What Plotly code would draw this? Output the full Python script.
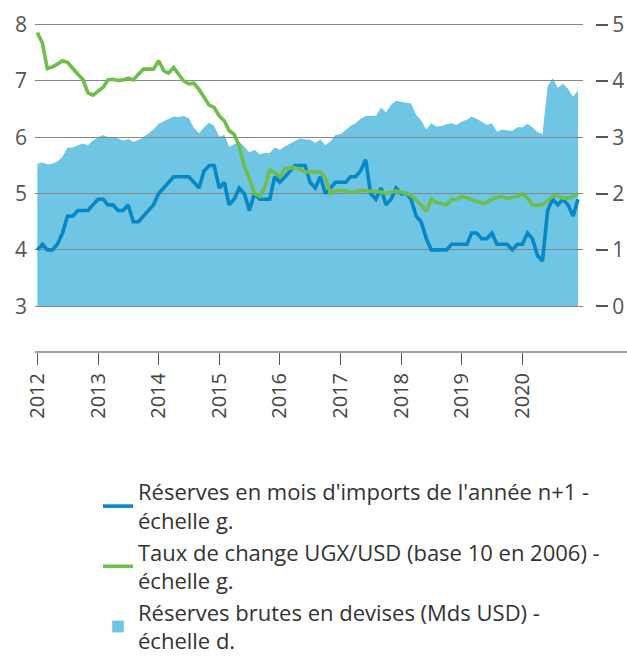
import pandas as pd
import plotly.graph_objects as go

# ---------------- data (monthly, Jan 2012 - Dec 2020) ----------------
months = pd.date_range("2012-01-01", periods=108, freq="MS")

reserves_months_imports = [
    4.0, 4.1, 4.0, 4.0, 4.1, 4.3, 4.6, 4.6, 4.7, 4.7, 4.7, 4.8, 4.9, 4.9, 4.8, 4.8,
    4.7, 4.7, 4.8, 4.5, 4.5, 4.6, 4.7, 4.8, 5.0, 5.1, 5.2, 5.3, 5.3, 5.3, 5.3,
    5.2, 5.1, 5.4, 5.5, 5.5, 5.1, 5.2, 4.8, 4.9, 5.1, 5.0, 4.7, 5.0, 4.9, 4.9, 4.9,
    5.3, 5.2, 5.3, 5.4, 5.5, 5.5, 5.5, 5.2, 5.1, 5.3, 5.0, 5.1, 5.2,
    5.2, 5.2, 5.3, 5.3, 5.4, 5.6, 5.0, 4.9, 5.1, 4.8, 4.9, 5.1, 5.0, 5.0, 4.9, 4.6,
    4.5, 4.2, 4.0, 4.0, 4.0, 4.0, 4.1, 4.1, 4.1, 4.1,
    4.3, 4.3, 4.2, 4.2, 4.3, 4.1, 4.1, 4.1, 4.0, 4.1, 4.1, 4.3, 4.2, 3.9, 3.8, 4.7,
    4.9, 4.8, 4.9, 4.8, 4.6, 4.9,
]

exchange_rate_index = [
    7.86, 7.67, 7.22, 7.25, 7.30, 7.36, 7.33, 7.22, 7.12, 7.03, 6.79, 6.75, 6.83, 6.89,
    7.02, 7.03, 7.01, 7.02, 7.05, 7.02, 7.12, 7.21, 7.21, 7.21, 7.36, 7.18, 7.14, 7.24,
    7.12, 7.00, 6.95,
    6.96, 6.85, 6.72, 6.57, 6.53, 6.38, 6.29, 6.12, 6.05, 5.85, 5.48, 5.27, 5.00, 4.95,
    5.10, 5.42, 5.37, 5.30, 5.44, 5.45, 5.46, 5.43, 5.38, 5.39, 5.39, 5.38, 5.28,
    5.00, 5.05, 5.06, 5.05, 5.02, 5.03, 5.06, 5.05, 5.04, 5.03, 5.03, 5.00, 5.03, 5.05,
    5.03, 5.00, 4.97, 4.89, 4.80, 4.68, 4.90, 4.84, 4.83, 4.80, 4.89, 4.90, 4.95, 4.92,
    4.89, 4.86, 4.83, 4.84, 4.90, 4.93, 4.95, 4.91, 4.93, 4.95, 5.00, 4.92, 4.80, 4.79,
    4.80, 4.88, 4.95, 4.96, 4.92, 4.92, 4.95, 5.00,
]

gross_reserves_bn_usd = [
    2.53, 2.55, 2.52, 2.53, 2.57, 2.66, 2.82, 2.82, 2.86, 2.89, 2.86, 2.94, 3.00, 3.04,
    3.00, 3.00, 2.98, 2.94, 2.97, 2.92, 2.95, 3.00, 3.07, 3.14, 3.24, 3.28, 3.32, 3.37,
    3.36, 3.38, 3.34,
    3.17, 3.07, 3.18, 3.26, 3.20, 3.01, 3.04, 2.83, 2.87, 2.92, 2.83, 2.73, 2.78, 2.70,
    2.72, 2.72, 2.82, 2.78, 2.84, 2.89, 2.94, 2.98, 2.96, 2.96, 2.90, 2.96, 2.86,
    2.93, 3.04, 3.06, 3.13, 3.20, 3.25, 3.33, 3.38, 3.38, 3.38, 3.53, 3.44, 3.58, 3.65,
    3.63, 3.62, 3.60, 3.40, 3.30, 3.14, 3.25, 3.19, 3.20, 3.23, 3.25, 3.22, 3.28, 3.31,
    3.37, 3.33, 3.28, 3.22, 3.25, 3.10, 3.14, 3.13, 3.11, 3.18, 3.18, 3.24, 3.18, 3.09,
    3.06, 3.90, 4.05, 3.88, 3.95, 3.86, 3.72, 3.83,
]

year_ticks = pd.date_range("2012-01-01", "2020-01-01", freq="YS")
year_labels = [str(d.year) for d in year_ticks]
left_ticks = [3, 4, 5, 6, 7, 8]
right_ticks = [0, 1, 2, 3, 4, 5]

names = [
    "Réserves en mois d'imports de l'année n+1 -<br>échelle g.",
    "Taux de change UGX/USD (base 10 en 2006) -<br>échelle g.",
    "Réserves brutes en devises (Mds USD) -<br>échelle d.",
]

# ---------------- style ----------------
BLUE = "#0787C5"
GREEN = "#6DBE4B"
AREA = "#6FC5E4"
GRID = "#858585"
TICKC = "#555555"
FONT = "Open Sans"

W, H = 627, 661
ML, MR, MT, MB = 35, 32, 15, 309
plot_w = W - ML - MR
plot_h = H - MT - MB
x_dom_end = (583 - ML) / plot_w

x_range = ["2011-12-18", "2020-12-31"]
left_range = [2.186, 8.172]
right_range = [left_range[0] - 3, left_range[1] - 3]

fig = go.Figure()

# area (right scale) on the back subplot
fig.add_trace(go.Scatter(
    x=months, y=gross_reserves_bn_usd, mode="lines", fill="tozeroy",
    line=dict(width=0, color=AREA), fillcolor=AREA,
    showlegend=False, xaxis="x", yaxis="y", hoverinfo="skip",
))
# lines (left scale) on the front subplot (its gridlines sit above the area)
fig.add_trace(go.Scatter(
    x=months, y=reserves_months_imports, mode="lines", name=names[0],
    line=dict(color=BLUE, width=3.6), xaxis="x2", yaxis="y2",
))
fig.add_trace(go.Scatter(
    x=months, y=exchange_rate_index, mode="lines", name=names[1],
    line=dict(color=GREEN, width=3.6), xaxis="x2", yaxis="y2",
))
# legend entry for the area (square swatch)
fig.add_trace(go.Bar(
    x=[None], y=[None], name=names[2], marker=dict(color=AREA),
    xaxis="x", yaxis="y",
))

fig.update_layout(
    width=W, height=H,
    margin=dict(l=ML, r=MR, t=MT, b=MB, autoexpand=False),
    paper_bgcolor="white", plot_bgcolor="rgba(0,0,0,0)",
    font=dict(family=FONT, color="#333333"),
    xaxis=dict(domain=[0, x_dom_end], range=x_range, type="date", visible=False,
               anchor="y"),
    yaxis=dict(range=right_range, side="right", anchor="free", position=1,
               showgrid=False, zeroline=False, tickvals=right_ticks,
               ticks="outside", ticklen=12, tickwidth=1.5, tickcolor=TICKC,
               tickfont=dict(size=21, color=TICKC, family=FONT)),
    xaxis2=dict(domain=[0, x_dom_end], range=x_range, type="date", anchor="y2",
                tickvals=list(year_ticks), ticktext=year_labels, tickangle=-90,
                ticks="outside", ticklen=12, tickwidth=1, tickcolor=TICKC,
                showgrid=False, zeroline=False, showline=False,
                tickfont=dict(size=20, color="#444444", family=FONT)),
    yaxis2=dict(domain=[0, 1], range=left_range, anchor="x2", side="left",
                tickvals=left_ticks, ticks="", showgrid=True, gridcolor=GRID,
                gridwidth=1.4, zeroline=False, showline=False,
                ticklabelstandoff=7,
                tickfont=dict(size=21, color=TICKC, family=FONT)),
    legend=dict(x=(98 - ML) / plot_w, y=(352 - 471) / plot_h,
                xanchor="left", yanchor="top", orientation="v",
                font=dict(size=22, color="#333333", family=FONT),
                bgcolor="rgba(0,0,0,0)", tracegroupgap=0),
    shapes=[dict(type="line", xref="paper", yref="paper",
                 x0=0, x1=(W - ML) / plot_w, y0=0, y1=0,
                 line=dict(color=GRID, width=1.4), layer="above")],
    showlegend=True,
)

fig.write_html("out.html", config={"displayModeBar": False},
               post_script="document.body.style.margin='0';")
